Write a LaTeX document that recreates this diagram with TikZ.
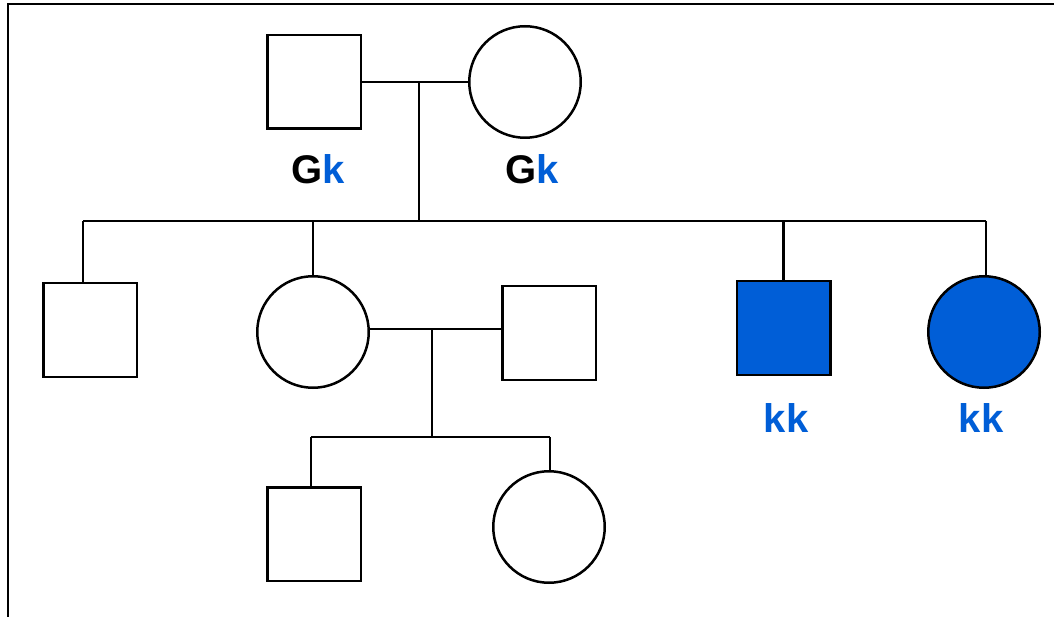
\documentclass[tikz,border=0pt]{standalone}
\usepackage{fontspec}
\setmainfont{Liberation Sans}
\usetikzlibrary{positioning}
\definecolor{pedblue}{RGB}{0,94,215}

\begin{document}
\begin{tikzpicture}[
    x=1pt, y=-1pt,
    male/.style={draw, line width=2.5pt, minimum size=93.5pt, inner sep=0pt},
    female/.style={draw, circle, line width=2.5pt, minimum size=111.5pt, inner sep=0pt},
    affected/.style={fill=pedblue},
    link/.style={line width=2.5pt},
    geno/.style={font=\fontsize{40}{44}\selectfont\bfseries, anchor=base}
]
\useasboundingbox (0,0) rectangle (1054,617);
\draw[line width=2.8pt] (8,617) -- (8,4) -- (1054,4);
% generation I
\node[male] (father) at (314,82) {};
\node[female] (mother) at (525,82) {};
\node[geno] (gfather) at (318.5,184) {G\textcolor{pedblue}{k}};
\node[geno] (gmother) at (532.5,184) {G\textcolor{pedblue}{k}};
% generation II
\node[male] (son1) at (90,330) {};
\node[female] (dau1) at (313,332) {};
\node[male] (spouse) at (549,333) {};
\node[male, affected] (son2) at (783.5,328) {};
\node[female, affected] (dau2) at (984,332) {};
\node[geno, pedblue] (gson2) at (786,432) {kk};
\node[geno, pedblue] (gdau2) at (981,432) {kk};
% generation III
\node[male] (gson) at (314,534) {};
\node[female] (gdau) at (549,527) {};
% lines
\coordinate (mar1) at (419,82);
\coordinate (sib) at (419,221);
\coordinate (sibL) at (83,221);
\coordinate (sibR) at (986,221);
\coordinate (mar2) at (432,329);
\coordinate (gsib) at (432,437);
\coordinate (gsibL) at (311,437);
\coordinate (gsibR) at (550,437);
\draw[link] (father.east) -- (mother.west);
\draw[link] (mar1) -- (sib);
\draw[link] (sibL) -- (sibR);
\draw[link] (sibL) -- (sibL |- son1.north);
\draw[link] (dau1.north |- sib) -- (dau1.north);
\draw[link] (son2.north |- sib) -- (son2.north);
\draw[link] (sibR) -- (sibR |- dau2.north);
\draw[link] (dau1.east |- mar2) -- (spouse.west |- mar2);
\draw[link] (mar2) -- (gsib);
\draw[link] (gsibL) -- (gsibR);
\draw[link] (gsibL) -- (gsibL |- gson.north);
\draw[link] (gsibR) -- (gsibR |- gdau.north);
\end{tikzpicture}
\end{document}
